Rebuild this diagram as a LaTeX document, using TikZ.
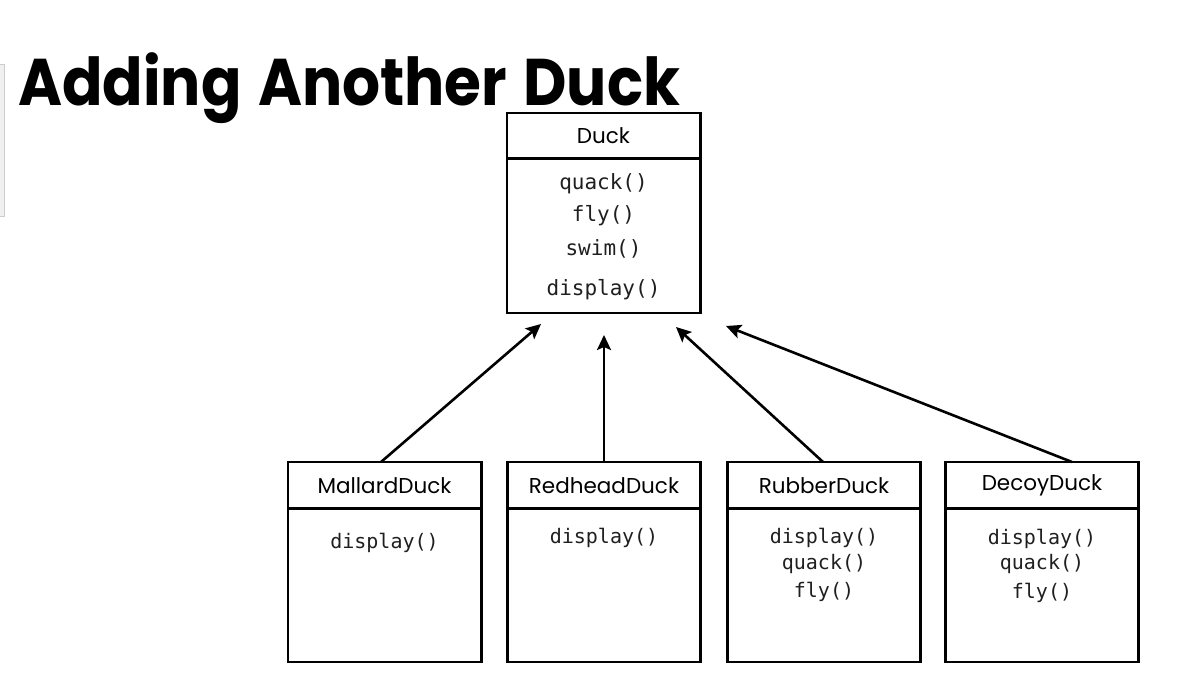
\documentclass[tikz,border=0pt]{standalone}
\usepackage{fontspec}
\setmainfont{Poppins}
\newfontfamily\monofont{DejaVu Sans Mono}
\usetikzlibrary{arrows.meta}
\begin{document}
\begin{tikzpicture}[x=1pt,y=-1pt,
  head/.style={minimum width=193pt, minimum height=45pt, inner sep=0pt, anchor=north, font=\fontsize{21.5}{24}\selectfont},
  body/.style={minimum width=193pt, inner sep=0pt, anchor=north},
  frame/.style={draw, line width=2.6pt},
  method/.style={font=\monofont\fontsize{20}{24}\selectfont, inner sep=0pt, text=black!88},
  bigmethod/.style={font=\monofont\fontsize{21}{24}\selectfont, inner sep=0pt, text=black!88},
  inherit/.style={line width=2.6pt, -{Stealth[length=15pt,width=14pt,inset=3pt]}}]
\useasboundingbox (0,0) rectangle (1182,677);
\fill[white] (0,0) rectangle (1182,677);
\draw[gray!40, fill=gray!12, line width=0.6pt] (-1,64) rectangle (4,216);
\node[anchor=base west, inner sep=0pt] (title) at (18,105) {\scalebox{0.905}[1]{\bfseries\fontsize{66}{70}\selectfont Adding\hskip 18pt Another\hskip 18pt Duck}};
% Duck
\node[head] (duckh) at (603.5,113) {Duck};
\node[body, minimum height=154pt] (duckb) at (duckh.south) {};
\draw[frame] (duckh.north west) rectangle (duckb.south east);
\draw[frame] (duckh.south west) -- (duckh.south east);
\node[bigmethod] (d1) at (603.5,184) {quack()};
\node[bigmethod] (d2) at (603.5,216) {fly()};
\node[bigmethod] (d3) at (603.5,249) {swim()};
\node[bigmethod] (d4) at (603.5,290) {display()};
% subclasses
\node[head, minimum height=46pt] (mh) at (384.5,462) {MallardDuck};
\node[body, minimum height=153pt] (mb) at (mh.south) {};
\draw[frame] (mh.north west) rectangle (mb.south east);
\draw[frame] (mh.south west) -- (mh.south east);
\node[method] (m1) at (384.5,543) {display()};
\node[head, minimum height=46pt] (rh) at (604,462) {RedheadDuck};
\node[body, minimum height=153pt] (rb) at (rh.south) {};
\draw[frame] (rh.north west) rectangle (rb.south east);
\draw[frame] (rh.south west) -- (rh.south east);
\node[method] (r1) at (604,538) {display()};
\node[head, minimum height=46pt] (uh) at (824,462) {RubberDuck};
\node[body, minimum height=153pt] (ub) at (uh.south) {};
\draw[frame] (uh.north west) rectangle (ub.south east);
\draw[frame] (uh.south west) -- (uh.south east);
\node[method] (u1) at (824,538) {display()};
\node[method] (u2) at (824,564) {quack()};
\node[method] (u3) at (824,592) {fly()};
\node[head, minimum height=46pt] (ch) at (1042,462) {DecoyDuck};
\node[body, minimum height=153pt] (cb) at (ch.south) {};
\draw[frame] (ch.north west) rectangle (cb.south east);
\draw[frame] (ch.south west) -- (ch.south east);
\node[method] (c1) at (1042,539) {display()};
\node[method] (c2) at (1042,564) {quack()};
\node[method] (c3) at (1042,593) {fly()};
% arrow targets
\coordinate (t1) at (541,324);
\coordinate (t2) at (604,335);
\coordinate (t3) at (676,327);
\coordinate (t4) at (726,326);
\draw[inherit] ([xshift=-3.5pt]mh.north) -- (t1);
\draw[inherit] (rh.north) -- (t2);
\draw[inherit] ([xshift=-1pt]uh.north) -- (t3);
\draw[inherit] ([xshift=30pt]ch.north) -- (t4);
\end{tikzpicture}
\end{document}
